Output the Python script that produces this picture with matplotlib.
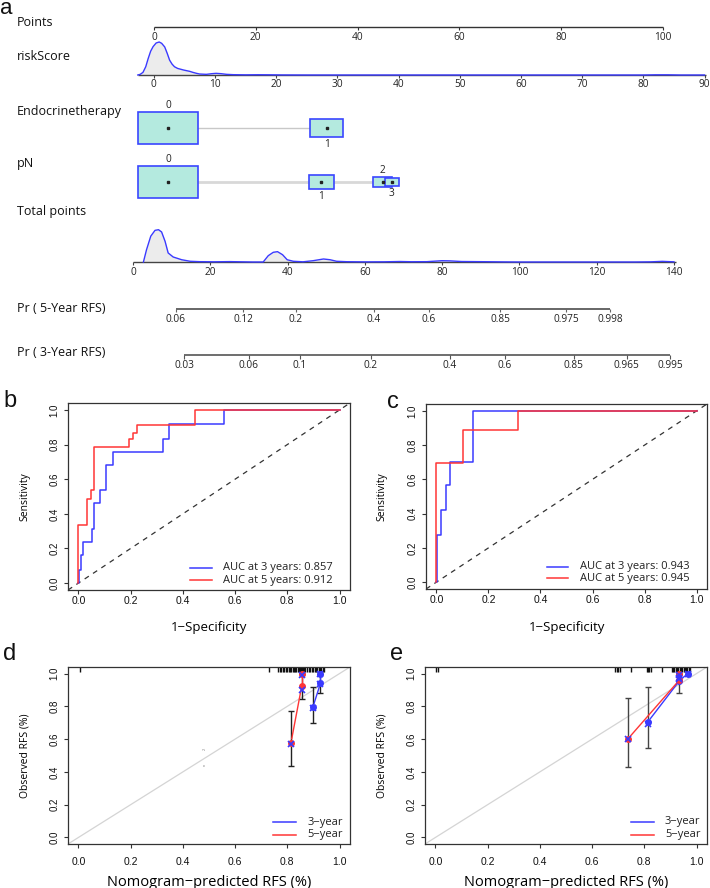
import numpy as np
import matplotlib
matplotlib.use("Agg")
import matplotlib.pyplot as plt
from matplotlib.patches import Rectangle

# ======================= DATA =======================
# --- nomogram (panel a) ---
points_ticks = [0, 20, 40, 60, 80, 100]
risk_ticks = [0, 10, 20, 30, 40, 50, 60, 70, 80, 90]
risk_axis_range = [-2.6, 90.3]
risk_dens_x = [-2.6, -2.2, -1.75, -1.3, -0.9, -0.5, -0.1, 0.4, 0.9, 1.3, 1.8, 2.2, 2.6,
               3.0, 3.4, 3.9, 4.3, 4.9, 5.4, 5.9, 6.4, 7.0, 7.5, 8.6, 9.5, 10.2, 11.0,
               11.9, 13.0, 15.0, 17.0, 19.0, 21.0, 25.0, 80.0, 82.0, 84.0, 86.0, 90.0]
risk_dens_y = [0.0, 0.02, 0.08, 0.25, 0.5, 0.72, 0.86, 0.97, 1.0, 0.96, 0.85, 0.66, 0.45,
               0.33, 0.25, 0.2, 0.18, 0.15, 0.13, 0.11, 0.08, 0.05, 0.03, 0.02, 0.04, 0.05, 0.04,
               0.02, 0.01, 0.005, 0.008, 0.006, 0.002, 0.0, 0.0, 0.006, 0.006, 0.0, 0.0]
endo_levels = ["0", "1"]
endo_points = [2.75, 33.9]
endo_freq = [0.775, 0.225]
pn_levels = ["0", "1", "2", "3"]
pn_points = [2.75, 32.9, 44.9, 46.7]
pn_freq = [0.756, 0.128, 0.078, 0.040]
total_ticks = [0, 20, 40, 60, 80, 100, 120, 140]
total_axis_range = [0, 140.5]
total_dens_x = [2.7, 3.5, 4.6, 5.7, 6.6, 7.4, 8.3, 9.1, 10.4, 12.6, 14.8, 17.3, 21.0, 25.0,
                28.0, 31.0, 33.7, 35.0, 36.3, 37.4, 38.7, 39.9, 41.5, 44.0, 46.6, 49.3, 51.0,
                52.7, 55.3, 60.0, 65.0, 69.0, 72.0, 76.0, 80.0, 82.0, 85.0, 88.0, 92.0, 96.0,
                100.0, 130.0, 134.0, 137.0, 140.0]
total_dens_y = [0.0, 0.38, 0.80, 0.98, 1.0, 0.93, 0.64, 0.28, 0.155, 0.07, 0.022, 0.01, 0.006,
                0.012, 0.006, 0.0, 0.0, 0.195, 0.30, 0.32, 0.226, 0.07, 0.022, 0.006, 0.04, 0.093,
                0.07, 0.022, 0.009, 0.004, 0.006, 0.015, 0.008, 0.01, 0.04, 0.035, 0.015, 0.012,
                0.008, 0.003, 0.0, 0.0, 0.005, 0.02, 0.005]
pr5_labels = ["0.06", "0.12", "0.2", "0.4", "0.6", "0.85", "0.975", "0.998"]
pr5_points = [11.1, 28.5, 42.2, 62.4, 76.6, 95.0, 112.1, 123.4]
pr3_labels = ["0.03", "0.06", "0.1", "0.2", "0.4", "0.6", "0.85", "0.965", "0.995"]
pr3_points = [13.2, 30.0, 43.2, 61.6, 82.0, 96.3, 114.1, 127.8, 139.0]

# --- ROC (panels b, c) ---
b_fpr_3y = [0, 0.004, 0.010, 0.019, 0.051, 0.058, 0.082, 0.107, 0.131, 0.324, 0.346, 0.556, 1.0]
b_tpr_3y = [0, 0.0, 0.073, 0.162, 0.238, 0.313, 0.461, 0.535, 0.683, 0.758, 0.832, 0.921, 1.0]
b_fpr_5y = [0, 0.034, 0.047, 0.061, 0.193, 0.209, 0.225, 0.447, 1.0]
b_tpr_5y = [0, 0.333, 0.487, 0.535, 0.786, 0.832, 0.867, 0.911, 1.0]
b_auc = [0.857, 0.912]
c_fpr_3y = [0, 0.001, 0.019, 0.036, 0.054, 0.140, 1.0]
c_tpr_3y = [0, 0.0, 0.278, 0.419, 0.567, 0.700, 1.0]
c_fpr_5y = [0, 0.103, 0.313, 1.0]
c_tpr_5y = [0, 0.695, 0.888, 1.0]
c_auc = [0.943, 0.945]

# --- calibration (panels d, e) ---
d_pred_3y = [0.898, 0.927, 0.927]
d_obs_3y = [0.796, 0.941, 1.0]
d_lo_3y = [0.699, 0.881, 1.0]
d_hi_3y = [0.915, 1.0, 1.0]
d_corr_3y = [0.79, 0.935, 0.995]
d_pred_5y = [0.814, 0.855, 0.855]
d_obs_5y = [0.578, 0.922, 1.0]
d_lo_5y = [0.433, 0.843, 1.0]
d_hi_5y = [0.770, 1.0, 1.0]
d_corr_5y = [0.57, 0.90, 0.99]
d_rug = [0.006, 0.73, 0.765, 0.771, 0.777, 0.783, 0.789, 0.795, 0.80, 0.805, 0.81, 0.815,
         0.82, 0.825, 0.83, 0.835, 0.84, 0.845, 0.85, 0.853, 0.856, 0.86, 0.863, 0.866,
         0.876, 0.882, 0.888, 0.894, 0.90, 0.905, 0.91, 0.915, 0.92, 0.925, 0.93, 0.935, 0.94]
e_pred_3y = [0.813, 0.934, 0.966]
e_obs_3y = [0.704, 0.955, 1.0]
e_lo_3y = [0.547, 0.880, 1.0]
e_hi_3y = [0.920, 1.0, 1.0]
e_corr_3y = [0.695, 0.975, 0.995]
e_pred_5y = [0.738, 0.934, 0.934]
e_obs_5y = [0.603, 0.960, 1.0]
e_lo_5y = [0.432, 0.960, 1.0]
e_hi_5y = [0.853, 1.0, 1.0]
e_corr_5y = [0.598, 0.965, 0.99]
e_rug = [0.004, 0.011, 0.688, 0.694, 0.701, 0.707, 0.749, 0.809, 0.815, 0.818, 0.824, 0.867,
         0.905, 0.91, 0.915, 0.92, 0.925, 0.93, 0.935, 0.94, 0.945, 0.95, 0.955, 0.96, 0.965,
         0.97, 0.975]

# ======================= STYLE / LAYOUT =======================
W, H = 710, 888
BLUE = "#3a3aff"
RED = "#ff3535"
NOMO_FONT = ["Open Sans", "DejaVu Sans"]
R_FONT = ["Liberation Sans", "DejaVu Sans"]
plt.rcParams["font.family"] = R_FONT
plt.rcParams["axes.unicode_minus"] = True

fig = plt.figure(figsize=(W / 100, H / 100), dpi=100)
fig.patch.set_facecolor("white")


def fx(px):
    return px / W


def fy(py):
    return 1 - py / H


# ---------- panel a: nomogram ----------
A_BOT = 372
A_RECT = [0, 1 - A_BOT / H, 1, A_BOT / H]


def row_axes(x0_px, px_per_unit, name):
    ax = fig.add_axes(A_RECT, label=name)
    ax.set_xlim(-x0_px / px_per_unit, (W - x0_px) / px_per_unit)
    ax.set_ylim(A_BOT, 0)
    ax.axis("off")
    ax.patch.set_alpha(0)
    return ax


ax_pts = row_axes(154, 5.09, "pts")
ax_risk = row_axes(153.7, 6.12, "risk")
ax_tot = row_axes(133, 3.864, "tot")

Y_PTS, Y_RISK, Y_ENDO, Y_PN, Y_TOT, Y_PR5, Y_PR3 = 27, 75, 128, 182, 262, 309, 355
LAB_Y = {"Points": 22, "riskScore": 57, "Endocrinetherapy": 111, "pN": 164,
         "Total points": 212, "Pr ( 5-Year RFS)": 308, "Pr ( 3-Year RFS)": 353}
for txt, yy in LAB_Y.items():
    fig.text(fx(17), fy(yy), txt, ha="left", va="center", fontsize=9,
             family=NOMO_FONT, color="#111")

fig.text(fx(0), fy(14), "a", ha="left", va="baseline", fontsize=16, color="#111")

TICK_FS = 7.3
AX_COL = "#333333"


def scale_axis(ax, y, lo, hi, ticks, labels, lab_dy, lw=1.0, col=AX_COL, tick_len=3):
    ax.plot([lo, hi], [y, y], color=col, lw=lw, solid_capstyle="butt", zorder=3)
    ax.vlines(ticks, y, y + tick_len, color=col, lw=0.8, zorder=3)
    for t, l in zip(ticks, labels):
        ax.text(t, y + lab_dy, l, ha="center", va="center", fontsize=TICK_FS,
                family=NOMO_FONT, color="#222")


# Points
scale_axis(ax_pts, Y_PTS, points_ticks[0], points_ticks[-1], points_ticks,
           [str(v) for v in points_ticks], 10)

# riskScore density + axis
DH_RISK = 33
rx = np.array(risk_dens_x)
ry = Y_RISK - np.array(risk_dens_y) * DH_RISK
ax_risk.fill_between(rx, Y_RISK, ry, color="#ececec", lw=0, zorder=1)
scale_axis(ax_risk, Y_RISK, risk_axis_range[0], risk_axis_range[1], risk_ticks,
           [str(v) for v in risk_ticks], 9.5, col="#444")
ax_risk.plot(rx, ry, color=BLUE, lw=1.0, zorder=4)

# categorical rows
BOX_W = 11.98      # points units for the most frequent level
BOX_H = 32         # px for the most frequent level
BOX_FACE = "#b4eadf"
BOX_EDGE = "#3a46ff"


def cat_row(ax, y, pts, freq, levels, line_lw, line_col):
    fmax = max(freq)
    ax.plot([pts[0], pts[-1]], [y, y], color=line_col, lw=line_lw, zorder=1)
    for i, (p, f, lev) in enumerate(zip(pts, freq, levels)):
        s = np.sqrt(f / fmax)
        w = BOX_W * s
        h = BOX_H * s
        ax.add_patch(Rectangle((p - w / 2, y - h / 2), w, h, facecolor=BOX_FACE,
                               edgecolor=BOX_EDGE, lw=1.2, zorder=2 + i))
        ax.plot([p], [y], "s", color="#222", ms=1.6, zorder=10)
        if i % 2 == 0:
            ax.text(p, y - h / 2 - 6.5, lev, ha="center", va="center", fontsize=TICK_FS,
                    family=NOMO_FONT, color="#222")
        else:
            ax.text(p, y + h / 2 + 8, lev, ha="center", va="center", fontsize=TICK_FS,
                    family=NOMO_FONT, color="#222")


cat_row(ax_pts, Y_ENDO, endo_points, endo_freq, endo_levels, 1.0, "#c8c8c8")
cat_row(ax_pts, Y_PN, pn_points, pn_freq, pn_levels, 2.0, "#d8d8d8")

# Total points density + axis
DH_TOT = 32.3
tx = np.array(total_dens_x)
ty = Y_TOT - np.array(total_dens_y) * DH_TOT
ax_tot.fill_between(tx, Y_TOT, ty, color="#ececec", lw=0, zorder=1)
scale_axis(ax_tot, Y_TOT, total_axis_range[0], total_axis_range[1], total_ticks,
           [str(v) for v in total_ticks], 10.5, col="#444")
ax_tot.plot(tx, ty, color=BLUE, lw=1.0, zorder=4)

# Probability axes
scale_axis(ax_tot, Y_PR5, pr5_points[0], pr5_points[-1], pr5_points, pr5_labels, 10,
           lw=1.4, col="#666")
scale_axis(ax_tot, Y_PR3, pr3_points[0], pr3_points[-1], pr3_points, pr3_labels, 10.5,
           lw=1.2, col="#555", tick_len=4)


# ---------- R-style axes ----------
def r_axes(l, t, r, b, xpad):
    ax = fig.add_axes([fx(l), fy(b), fx(r - l), (b - t) / H])
    ax.set_xlim(-0.04, 1.04)
    ax.set_ylim(-0.04, 1.04)
    ticks = [0, 0.2, 0.4, 0.6, 0.8, 1.0]
    ax.set_xticks(ticks)
    ax.set_yticks(ticks)
    ax.set_xticklabels([f"{v:.1f}" for v in ticks])
    ax.set_yticklabels([f"{v:.1f}" for v in ticks])
    for s in ax.spines.values():
        s.set_linewidth(0.9)
        s.set_color("#333")
    ax.tick_params(axis="x", length=3, width=0.8, labelsize=7.5, pad=xpad, colors="#333",
                   labelcolor="#111")
    ax.tick_params(axis="y", length=3, width=0.8, labelsize=7, pad=3, colors="#333",
                   labelcolor="#111", labelrotation=90)
    for lab in ax.get_yticklabels():
        lab.set_verticalalignment("center")
    return ax


def legend_lines(ax, x0, x1, xt, ys, cols, texts, fs):
    for y, c, t in zip(ys, cols, texts):
        ax.plot([x0, x1], [y, y], color=c, lw=1.1, transform=ax.transAxes, clip_on=False)
        ax.text(xt, y, t, transform=ax.transAxes, ha="left", va="center", fontsize=fs,
                family=NOMO_FONT, color="#222")


def roc_panel(l, t, r, b, letter, lx, lby, f3, t3, f5, t5, auc, leg):
    ax = r_axes(l, t, r, b, 1.5)
    ax.axline((0, 0), (1, 1), color="#333", lw=0.9, ls=(0, (4, 4)))
    ax.plot(f3, t3, color=BLUE, lw=1.1, drawstyle="steps-pre")
    ax.plot(f5, t5, color=RED, lw=1.1, drawstyle="steps-pre")
    ax.set_xlabel("1\u2212Specificity", fontsize=9.5, family=NOMO_FONT, va="center")
    ax.set_ylabel("Sensitivity", fontsize=7.5, family=NOMO_FONT, va="center")
    ax.xaxis.set_label_coords(0.5, (b - 627) / (b - t))
    ax.yaxis.set_label_coords((25 - l) / (r - l), 0.5)
    legend_lines(ax, leg[0], leg[1], leg[2], leg[3], [BLUE, RED],
                 [f"AUC at 3 years: {auc[0]:.3f}", f"AUC at 5 years: {auc[1]:.3f}"], 8)
    fig.text(fx(lx), fy(lby), letter, ha="left", va="baseline", fontsize=17, color="#111")
    return ax


roc_panel(68, 403, 350, 590, "b", 3, 407, b_fpr_3y, b_tpr_3y, b_fpr_5y, b_tpr_5y, b_auc,
          (0.433, 0.511, 0.55, [0.118, 0.053]))
axc = roc_panel(426, 404, 707, 589, "c", 387, 408, c_fpr_3y, c_tpr_3y, c_fpr_5y, c_tpr_5y,
                c_auc, (0.43, 0.505, 0.548, [0.119, 0.059]))
axc.yaxis.set_label_coords((382 - 426) / (707 - 426), 0.5)


def gap_line(ax, x, y, color, gap=4.0, lw=1.0):
    pts = ax.transData.transform(np.column_stack([x, y]))
    inv = ax.transData.inverted()
    for p0, p1 in zip(pts[:-1], pts[1:]):
        d = p1 - p0
        L = np.hypot(d[0], d[1])
        if L <= 2 * gap + 0.5:
            continue
        u = d / L
        seg = inv.transform(np.array([p0 + u * gap, p1 - u * gap]))
        ax.plot(seg[:, 0], seg[:, 1], color=color, lw=lw, zorder=3)


def cal_panel(l, t, r, b, letter, lx, series, rug, leg, ecol, ylab_x):
    ax = r_axes(l, t, r, b, 6)
    ax.axline((0, 0), (1, 1), color="#d4d4d4", lw=0.9, zorder=1)
    ax.vlines(rug, 0.97, 1.0, transform=ax.get_xaxis_transform(), color="#111", lw=1.0)
    for (px, ob, lo, hi, corr, col) in series:
        px = np.array(px); ob = np.array(ob)
        ax.errorbar(px, ob, yerr=[ob - np.array(lo), np.array(hi) - ob], fmt="none",
                    ecolor=ecol, elinewidth=1.0, capsize=2.5, capthick=1.0, zorder=2)
        gap_line(ax, px, ob, col)
        ax.plot(px, ob, "o", color=col, ms=4, zorder=5)
        ax.plot(px, corr, "x", color=BLUE, ms=4.5, mew=1.2, zorder=6)
    ax.set_xlabel("Nomogram\u2212predicted RFS (%)", fontsize=10.5, family=NOMO_FONT,
                  va="center")
    ax.set_ylabel("Observed RFS (%)", fontsize=7.5, family=NOMO_FONT, va="center")
    ax.xaxis.set_label_coords(0.5, (b - 882) / (b - t))
    ax.yaxis.set_label_coords((ylab_x - l) / (r - l), 0.5)
    legend_lines(ax, leg[0], leg[1], leg[2], leg[3], [BLUE, RED], ["3\u2212year", "5\u2212year"],
                 8)
    fig.text(fx(lx), fy(660), letter, ha="left", va="baseline", fontsize=17, color="#111")
    return ax


axd = cal_panel(68, 667, 350, 844, "d", 3,
                [(d_pred_3y, d_obs_3y, d_lo_3y, d_hi_3y, d_corr_3y, BLUE),
                 (d_pred_5y, d_obs_5y, d_lo_5y, d_hi_5y, d_corr_5y, RED)],
                d_rug, (0.727, 0.809, 0.848, [0.122, 0.053]), "#222", 25)
axd.text(0.484, 0.538, "2", rotation=90, fontsize=3, color="#888", ha="center", va="center")
axd.text(0.484, 0.44, "n", rotation=90, fontsize=3, color="#888", ha="center", va="center")
cal_panel(425, 667, 707, 844, "e", 390,
          [(e_pred_3y, e_obs_3y, e_lo_3y, e_hi_3y, e_corr_3y, BLUE),
           (e_pred_5y, e_obs_5y, e_lo_5y, e_hi_5y, e_corr_5y, RED)],
          e_rug, (0.73, 0.812, 0.851, [0.126, 0.053]), "#444", 382)

fig.savefig("out.png", dpi=100, facecolor="white")
